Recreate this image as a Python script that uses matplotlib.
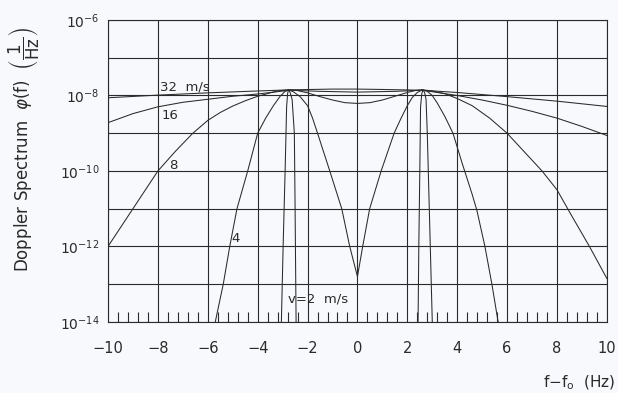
import numpy as np
import matplotlib
matplotlib.use("Agg")
import matplotlib.pyplot as plt
from matplotlib.ticker import MultipleLocator, LogLocator, FuncFormatter, NullLocator

plt.rcParams.update({
    "font.family": "DejaVu Sans",
    "mathtext.fontset": "dejavusans",
})

# Doppler spectra read as (f - f0 [Hz], log10 phi) for each wind speed
f_32 = [-10, -8, -6, -4, -2.7, -1, 0, 1, 2.6, 4, 6, 8, 10]
lg_32 = [-8.06, -7.99, -7.93, -7.88, -7.85, -7.83, -7.83, -7.84, -7.86, -7.92, -8.03, -8.15, -8.29]

f_16 = [-10, -9, -8, -7, -6, -5, -4, -2.7, -1.5, 0, 1.5, 2.6, 4, 5, 6, 7, 8, 9, 10]
lg_16 = [-8.72, -8.48, -8.30, -8.18, -8.10, -8.02, -7.96, -7.86, -7.89, -7.91, -7.89, -7.86,
         -8.00, -8.12, -8.26, -8.42, -8.60, -8.82, -9.06]

f_8 = [-10, -9.5, -9, -8.5, -8, -7.3, -6.6, -6, -5.5, -5, -4.5, -4, -3.5, -3.2, -2.75,
       -2.4, -2, -1.5, -1, -0.5, 0, 0.5, 1, 1.5, 2, 2.3, 2.6, 3.0, 3.5, 4.0, 4.6, 5.3, 6.0,
       6.7, 7.4, 8.0, 8.6, 9.3, 10]
lg_8 = [-12.0, -11.5, -11.0, -10.5, -10.0, -9.48, -9.0, -8.66, -8.45, -8.28, -8.14, -8.02,
        -7.93, -7.88, -7.85, -7.87, -7.93, -8.03, -8.12, -8.19, -8.21, -8.19, -8.12, -8.02,
        -7.92, -7.87, -7.85, -7.88, -7.95, -8.08, -8.27, -8.60, -9.0, -9.5, -10.0, -10.5,
        -11.2, -12.0, -12.85]

f_4 = [-5.7, -5.38, -5.12, -4.83, -4.4, -4.0, -3.68, -3.37, -3.1, -2.9, -2.75, -2.55, -2.3,
       -2.0, -1.8, -1.6, -1.11, -0.63, -0.31, 0, 0.21, 0.49, 0.95, 1.47, 1.75, 2.0, 2.2,
       2.4, 2.6, 2.8, 3.0, 3.2, 3.5, 3.83, 4.2, 4.59, 4.79, 5.11, 5.39, 5.64]
lg_4 = [-14, -13, -12, -11, -10, -9, -8.6, -8.27, -8.02, -7.89, -7.85, -7.91, -8.03, -8.27,
        -8.6, -9, -10, -11, -12, -12.8, -12, -11, -10, -9, -8.6, -8.27, -8.05, -7.92,
        -7.85, -7.89, -8.0, -8.2, -8.55, -9, -9.8, -10.6, -11.05, -12, -13, -14]

f_2a = [-3.05, -2.98, -2.9, -2.84, -2.8, -2.77, -2.7, -2.62, -2.53, -2.5, -2.46]
lg_2a = [-14, -12, -10, -8.3, -7.95, -7.85, -7.92, -8.1, -9, -11, -14]
f_2b = [2.43, 2.46, 2.5, 2.53, 2.58, 2.63, 2.69, 2.75, 2.8, 2.9, 3.0]
lg_2b = [-14, -12, -10, -8.3, -7.95, -7.85, -7.92, -8.1, -9, -11.5, -14]

curve_labels = ["32  m/s", "16", "8", "4", "v=2  m/s"]
label_f = [-7.9, -7.5, -7.4, -4.9, -2.8]
label_lg = [-7.78, -8.52, -9.85, -11.8, -13.4]

ink = "#2a2a2a"
paper = "#f8f9fc"

fig = plt.figure(figsize=(6.18, 3.93), dpi=100, facecolor=paper)
ax = fig.add_axes([0.1748, 0.181, 0.8072, 0.768])
ax.set_facecolor(paper)

for f, lg in [(f_32, lg_32), (f_16, lg_16), (f_8, lg_8), (f_4, lg_4), (f_2a, lg_2a), (f_2b, lg_2b)]:
    ax.plot(f, 10.0 ** np.array(lg), color=ink, linewidth=0.75)

for txt, fx, ly in zip(curve_labels, label_f, label_lg):
    ax.text(fx, 10.0 ** ly, txt, fontsize=9.5, color=ink, ha="left" if txt[0] in "3v" else "center",
            va="center")

ax.set_yscale("log")
ax.set_xlim(-10, 10)
ax.set_ylim(1e-14, 1e-6)

ax.xaxis.set_major_locator(MultipleLocator(2))
ax.xaxis.set_minor_locator(MultipleLocator(0.4))
ax.yaxis.set_major_locator(LogLocator(base=10, subs=(1.0,), numticks=20))
ax.yaxis.set_minor_locator(NullLocator())


def even_decades(v, pos):
    e = int(round(np.log10(v)))
    return f"$10^{{{e}}}$" if e % 2 == 0 else ""


ax.yaxis.set_major_formatter(FuncFormatter(even_decades))
ax.xaxis.set_major_formatter(FuncFormatter(lambda v, pos: f"{v:g}".replace("-", "\u2212")))

ax.grid(True, which="major", color=ink, linewidth=0.8)
ax.tick_params(axis="both", which="major", length=0, labelsize=10.5, colors=ink)
ax.tick_params(axis="x", which="major", pad=14)
ax.tick_params(axis="y", which="major", pad=6, labelsize=10)
ax.tick_params(axis="x", which="minor", direction="in", length=7, width=0.8, color=ink,
               top=False)
for s in ax.spines.values():
    s.set_color(ink)
    s.set_linewidth(0.8)

fig.text(0.04, 0.62, r"Doppler Spectrum  $\varphi$(f)  $\left(\dfrac{1}{\mathrm{Hz}}\right)$",
         rotation=90, ha="center", va="center", fontsize=12, color=ink)
fig.text(0.995, 0.025, r"f$-$f$_\mathrm{o}$  (Hz)", ha="right", va="center",
         fontsize=11, color=ink)

fig.savefig("out.png", dpi=100, facecolor=paper)
